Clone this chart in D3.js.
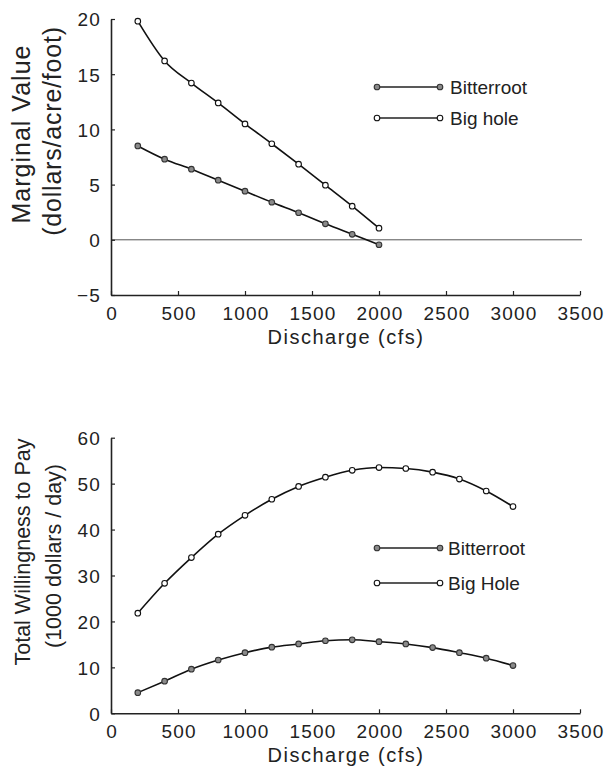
<!DOCTYPE html>
<html>
<head>
<meta charset="utf-8">
<script src="https://cdn.jsdelivr.net/npm/d3@7"></script>
<style>
  body { margin: 0; background: #fff; }
  svg text { font-family: "Liberation Sans", Arial, sans-serif; fill: #222; }
  .tick text { font-size: 19px; letter-spacing: 1.2px; }
  .domain { stroke: #222; stroke-width: 1.6px; }
  .tick line { stroke: #222; stroke-width: 1.2px; }
</style>
</head>
<body>
<div id="chart"></div>
<script>
// discharge values (cfs)
var dischargeTop = [200, 400, 600, 800, 1000, 1200, 1400, 1600, 1800, 2000];
var dischargeBottom = [200, 400, 600, 800, 1000, 1200, 1400, 1600, 1800, 2000, 2200, 2400, 2600, 2800, 3000];

// marginal value (dollars/acre/foot)
var mvBitterroot = [8.5, 7.3, 6.4, 5.4, 4.4, 3.4, 2.45, 1.45, 0.5, -0.45];
var mvBigHole = [19.8, 16.2, 14.2, 12.4, 10.5, 8.7, 6.85, 4.95, 3.05, 1.05];

// total willingness to pay (1000 dollars/day)
var twBitterroot = [4.5, 7.0, 9.6, 11.6, 13.2, 14.4, 15.1, 15.8, 16.0, 15.6, 15.1, 14.3, 13.2, 12.0, 10.4];
var twBigHole = [21.8, 28.3, 33.9, 39.0, 43.1, 46.6, 49.4, 51.4, 52.9, 53.5, 53.3, 52.5, 51.0, 48.4, 45.0];

var xTicks = [0, 500, 1000, 1500, 2000, 2500, 3000, 3500];
var yTicksTop = [-5, 0, 5, 10, 15, 20];
var yTicksBottom = [0, 10, 20, 30, 40, 50, 60];

var svg = d3.select("#chart").append("svg")
    .attr("width", 608)
    .attr("height", 769);

function drawPanel(opt) {
    var xScale = d3.scaleLinear().domain([0, 3500]).range([111, 580]);
    var yScale = d3.scaleLinear().domain(opt.yDomain).range([opt.bottom, opt.top]);

    var g = svg.append("g");

    // zero reference line
    if (opt.zeroLine) {
        g.append("line")
            .attr("x1", xScale(0))
            .attr("x2", 582)
            .attr("y1", yScale(0))
            .attr("y2", yScale(0))
            .attr("stroke", "#555")
            .attr("stroke-width", 1);
    }

    g.append("g")
        .attr("transform", `translate(0, ${opt.bottom})`)
        .call(d3.axisBottom(xScale).tickValues(xTicks).tickFormat(d3.format("d"))
            .tickSize(-4).tickSizeOuter(0).tickPadding(opt.xPad))
        .selectAll("text").attr("dx", "0.6px");

    g.append("g")
        .attr("transform", `translate(${xScale(0)}, 0)`)
        .call(d3.axisLeft(yScale).tickValues(opt.yTicks).tickFormat(d3.format("d"))
            .tickSize(-4).tickSizeOuter(0).tickPadding(10))
        .selectAll("text").attr("dy", "0.36em");

    var line = d3.line()
        .x(d => xScale(d[0]))
        .y(d => yScale(d[1]))
        .curve(d3.curveMonotoneX);

    opt.series.forEach(function(s) {
        var pts = opt.x.map((v, i) => [v, s.values[i]]);
        g.append("path")
            .datum(pts)
            .attr("fill", "none")
            .attr("stroke", "#111")
            .attr("stroke-width", 1.6)
            .attr("d", line);
        g.append("g").selectAll("circle")
            .data(pts)
            .enter()
            .append("circle")
            .attr("cx", d => xScale(d[0]))
            .attr("cy", d => yScale(d[1]))
            .attr("r", 2.8)
            .attr("fill", s.fill)
            .attr("stroke", s.stroke)
            .attr("stroke-width", 1.1);
    });

    // legend
    opt.series.forEach(function(s, i) {
        var ly = opt.legendY[i];
        g.append("line")
            .attr("x1", 377).attr("x2", 440)
            .attr("y1", ly).attr("y2", ly)
            .attr("stroke", "#222")
            .attr("stroke-width", 1.3);
        [377, 440].forEach(function(cx) {
            g.append("circle")
                .attr("cx", cx).attr("cy", ly).attr("r", 2.8)
                .attr("fill", s.fill)
                .attr("stroke", s.stroke)
                .attr("stroke-width", 1.1);
        });
        g.append("text")
            .attr("x", opt.legendX)
            .attr("y", ly)
            .attr("dy", "0.36em")
            .style("font-size", "19px")
            .text(s.name);
    });

    // x label
    g.append("text")
        .attr("x", 346)
        .attr("y", opt.bottom + 49)
        .attr("text-anchor", "middle")
        .style("font-size", "20px")
        .style("letter-spacing", "1.5px")
        .text("Discharge (cfs)");

    // y labels
    opt.yLabels.forEach(function(lab) {
        g.append("text")
            .attr("transform", `translate(${lab.x}, ${lab.y}) rotate(-90)`)
            .attr("text-anchor", "middle")
            .style("font-size", lab.size + "px")
            .style("letter-spacing", lab.spacing + "px")
            .text(lab.text);
    });
}

drawPanel({
    x: dischargeTop,
    yDomain: [-5, 20],
    yTicks: yTicksTop,
    top: 19,
    bottom: 295,
    xPad: 12,
    zeroLine: true,
    legendY: [87, 118],
    legendX: 450,
    series: [
        { name: "Bitterroot", values: mvBitterroot, fill: "#8a8a8a", stroke: "#333" },
        { name: "Big hole", values: mvBigHole, fill: "#fff", stroke: "#111" }
    ],
    yLabels: [
        { text: "Marginal Value", x: 30, y: 134, size: 25, spacing: 1 },
        { text: "(dollars/acre/foot)", x: 61, y: 131, size: 25, spacing: 0.8 }
    ]
});

drawPanel({
    x: dischargeBottom,
    yDomain: [0, 60],
    yTicks: yTicksBottom,
    top: 437.7,
    bottom: 713.3,
    xPad: 11,
    zeroLine: false,
    legendY: [548, 583],
    legendX: 448,
    series: [
        { name: "Bitterroot", values: twBitterroot, fill: "#8a8a8a", stroke: "#333" },
        { name: "Big Hole", values: twBigHole, fill: "#fff", stroke: "#111" }
    ],
    yLabels: [
        { text: "Total Willingness to Pay", x: 30, y: 552, size: 21.5, spacing: 0 },
        { text: "(1000 dollars / day)", x: 61, y: 556, size: 21.5, spacing: 0 }
    ]
});
</script>
</body>
</html>
